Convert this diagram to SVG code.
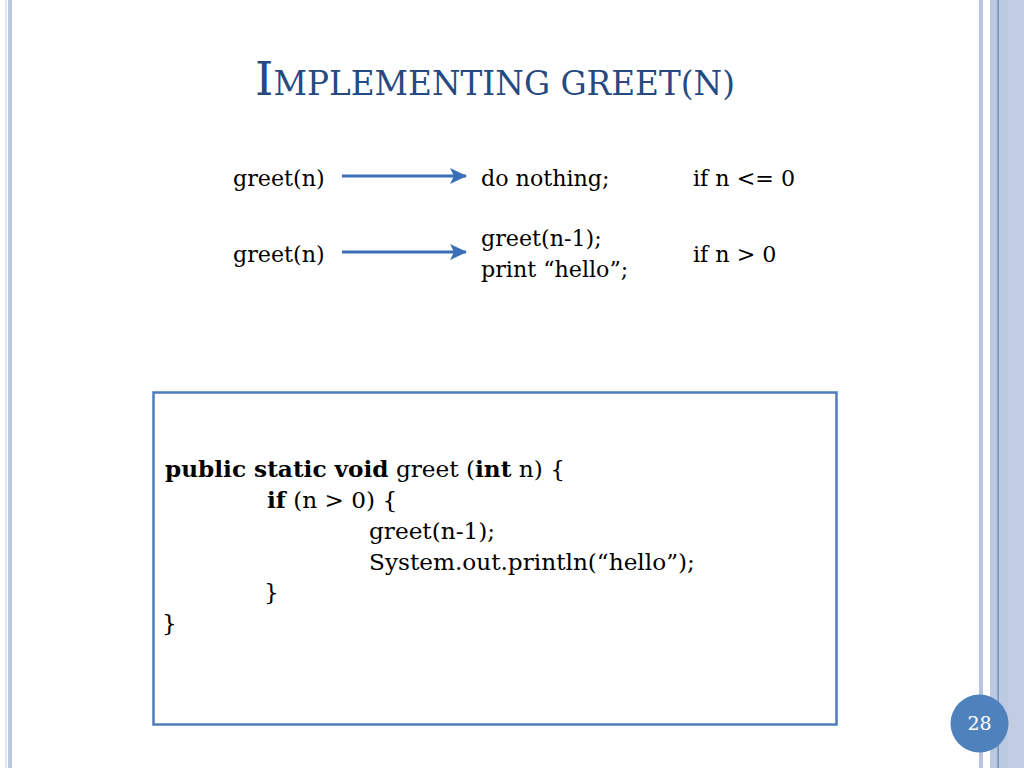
<svg xmlns="http://www.w3.org/2000/svg" width="1024" height="768" viewBox="0 0 1024 768">
<style>
.t{font-family:"DejaVu Serif","Liberation Serif",serif;font-size:22.2px;fill:#000}
.c{font-size:23.2px}
.b{font-weight:bold}
.title{font-family:"DejaVu Serif","Liberation Serif",serif;fill:#264a7f}
.arr{stroke:#3a6fb7;stroke-width:3.2;fill:none}
</style>
<defs>
<marker id="ah" viewBox="0 0 17 16" refX="16" refY="8" markerWidth="17" markerHeight="16" orient="auto" markerUnits="userSpaceOnUse">
<path d="M0,0 L17,8 L0,16 L4,8 Z" fill="#3a6fb7"/>
</marker>
</defs>
<rect width="1024" height="768" fill="#fff"/>
<g id="frame">
<rect x="5" y="0" width="2" height="768" fill="#dfe6f1"/>
<rect x="8" y="0" width="4" height="768" fill="#bccae1"/>
<rect x="979" y="0" width="4" height="768" fill="#b8c5dc"/>
<rect x="990" y="0" width="34" height="768" fill="#bccae1"/>
<rect x="1008" y="0" width="16" height="768" fill="#c1cde3"/>
<rect x="997.5" y="0" width="1.2" height="768" fill="#5b80b8"/>
</g>
<g id="title">
<text class="title" x="255" y="95" textLength="480" lengthAdjust="spacingAndGlyphs"><tspan font-size="47">I</tspan><tspan font-size="33">MPLEMENTING GREET(N)</tspan></text>
</g>
<g id="connectors">
<line class="arr" x1="342" y1="176" x2="466" y2="176" marker-end="url(#ah)"/>
<line class="arr" x1="342" y1="252" x2="466" y2="252" marker-end="url(#ah)"/>
</g>
<g id="row1">
<text class="t" x="233" y="186">greet(n)</text>
<text class="t" x="481" y="186">do nothing;</text>
<text class="t" x="693" y="186">if n &lt;= 0</text>
</g>
<g id="row2">
<text class="t" x="233" y="262">greet(n)</text>
<text class="t" x="481" y="246">greet(n-1);</text>
<text class="t" x="481" y="277">print “hello”;</text>
<text class="t" x="693" y="262">if n &gt; 0</text>
</g>
<g id="codebox">
<rect x="153.5" y="392.5" width="683" height="332" fill="#fff" stroke="#4f7dbb" stroke-width="2.5"/>
<text class="t c" x="165" y="477"><tspan class="b">public static void</tspan> greet (<tspan class="b">int</tspan> n) {</text>
<text class="t c" x="267" y="508"><tspan class="b">if</tspan> (n &gt; 0) {</text>
<text class="t c" x="369" y="539">greet(n-1);</text>
<text class="t c" x="369" y="570">System.out.println(“hello”);</text>
<text class="t c" x="264" y="600">}</text>
<text class="t c" x="162" y="631">}</text>
</g>
<g id="pagenum">
<circle cx="979.5" cy="723.5" r="29" fill="#4f81bd"/>
<text x="979.5" y="730" text-anchor="middle" font-family="DejaVu Serif, Liberation Serif, serif" font-size="19" fill="#fff">28</text>
</g>
</svg>
